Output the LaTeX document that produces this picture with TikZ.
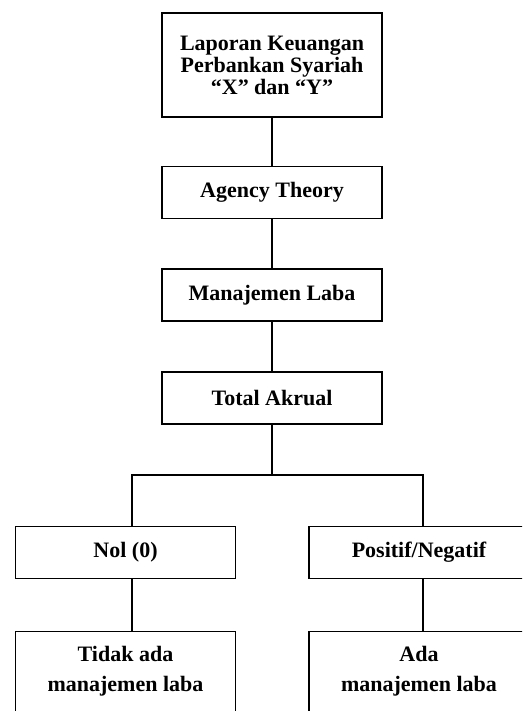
\documentclass[tikz,border=0pt]{standalone}
\usepackage{fontspec}
\setmainfont{Liberation Serif}
\tikzset{box/.style={draw=black, line width=1.1pt, minimum width=220pt, minimum height=52pt, inner sep=0pt, align=center, font=\bfseries\fontsize{22}{22}\selectfont},
	endbox/.style={box, anchor=north, inner ysep=15pt, text depth=60pt, font=\bfseries\fontsize{22}{30}\selectfont},
	link/.style={draw=black, line width=1.1pt}}

\begin{document}
\begin{tikzpicture}[x=1pt,y=-1pt]
		\useasboundingbox (0,0) rectangle (522,711); %fixes the page
		\clip (0,0) rectangle (522,711); %cuts the boxes at the edges
		\node[box, minimum height=104pt] (laporan) at (272,65) {Laporan Keuangan\\Perbankan Syariah\\“X” dan “Y”};
		\node[box] (agency) at (272,192.5) {Agency Theory};
		\node[box] (manlaba) at (272,295) {Manajemen Laba};
		\node[box] (akrual) at (272,398) {Total Akrual};
		\node[box] (nol) at (125.5,552.5) {Nol (0)};
		\node[box] (posneg) at (419,552.5) {Positif/Negatif};
		\node[endbox] (tidak) at (125.5,631) {Tidak ada\\manajemen laba};
		\node[endbox] (ada) at (419,631) {Ada\\manajemen laba};
		\coordinate (forkL) at (132,475); %left branch
		\coordinate (forkR) at (423,475); %right branch
		\draw[link] (laporan) -- (agency);
		\draw[link] (agency) -- (manlaba);
		\draw[link] (manlaba) -- (akrual);
		\draw[link] (akrual) -- (akrual |- forkL);
		\draw[link] (forkL |- nol.north) -- (forkL) -- (forkR) -- (forkR |- posneg.north); %splits in two
		\draw[link] (forkL |- nol.south) -- (forkL |- tidak.north);
		\draw[link] (forkR |- posneg.south) -- (forkR |- ada.north);
	\end{tikzpicture}
\end{document}
